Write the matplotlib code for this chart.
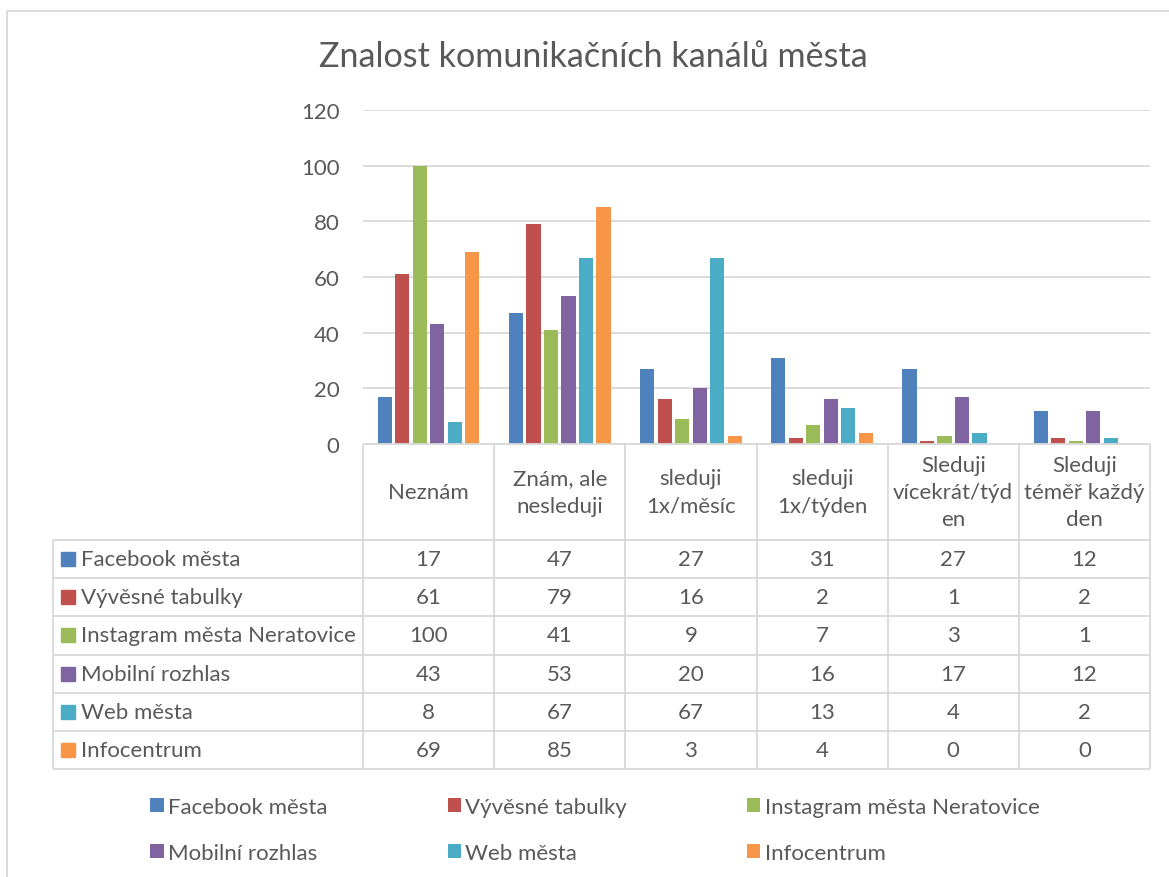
import matplotlib
matplotlib.use('Agg')
import matplotlib.pyplot as plt
from matplotlib.patches import Rectangle
import numpy as np

plt.rcParams['font.family'] = ['Lato', 'DejaVu Sans']

# data
title = "Znalost komunikačních kanálů města"
categories = ["Neznám", "Znám, ale\nnesleduji", "sleduji\n1x/měsíc", "sleduji\n1x/týden",
              "Sleduji\nvícekrát/týd\nen", "Sleduji\ntéměř každý\nden"]
series_names = ["Facebook města", "Vývěsné tabulky", "Instagram města Neratovice",
                "Mobilní rozhlas", "Web města", "Infocentrum"]
facebook = [17, 47, 27, 31, 27, 12]
vyvesky = [61, 79, 16, 2, 1, 2]
instagram = [100, 41, 9, 7, 3, 1]
rozhlas = [43, 53, 20, 16, 17, 12]
web = [8, 67, 67, 13, 4, 2]
infocentrum = [69, 85, 3, 4, 0, 0]
series_values = [facebook, vyvesky, instagram, rozhlas, web, infocentrum]
colors = ['#4F81BD', '#C0504D', '#9BBB59', '#8064A2', '#4BACC6', '#F79646']

txt = '#595959'
gc = '#D9D9D9'
fs = 16

W, H = 1169, 878
fig = plt.figure(figsize=(W / 100, H / 100), dpi=100)


def box(l, t, r, b):
    # pixel box (from top-left) -> figure fraction
    return [l / W, 1 - b / H, (r - l) / W, (b - t) / H]


# chart border
fig.patches.append(Rectangle((7 / W, -0.1), 1.2, 1 - 12 / H + 0.1, transform=fig.transFigure,
                             fill=False, edgecolor=gc, lw=1.3))

fig.text(593 / W, 1 - 57 / H, title, ha='center', va='center', fontsize=24.6, color=txt)

# bars
ax = fig.add_axes(box(363, 111, 1150, 445))
x = np.arange(len(categories))
step = 0.1334
bw = 0.107
bars = []
for j, (name, vals) in enumerate(zip(series_names, series_values)):
    b = ax.bar(x + (j - 2.5) * step, vals, bw, color=colors[j], label=name, zorder=3)
    bars.append(b)
ax.set_xlim(-0.5, 5.5)
ax.set_ylim(0, 120)
ax.set_yticks(range(0, 121, 20))
ax.yaxis.grid(True, color=gc, lw=1.3, zorder=0)
for s in ax.spines.values():
    s.set_visible(False)
ax.set_xticks([])
ax.tick_params(axis='y', length=0, pad=17, labelsize=fs, labelcolor=txt)

# data table
tab = fig.add_axes(box(53, 445, 1150, 770))
ncat = len(categories)
nser = len(series_names)
cw = 787 / ncat
label_w = (363 - 53) / cw
hdr = (541 - 445) / ((770 - 541) / nser)
left = -0.5 - label_w
tab.set_xlim(left, ncat - 0.5)
tab.set_ylim(hdr + nser, 0)
tab.axis('off')
kw = dict(color=gc, lw=1.3, clip_on=False, solid_capstyle='butt')
tab.plot([-0.5, ncat - 0.5], [0, 0], **kw)
for r in range(nser + 1):
    tab.plot([left, ncat - 0.5], [hdr + r] * 2, **kw)
for c in range(ncat + 1):
    tab.plot([c - 0.5] * 2, [0, hdr + nser], **kw)
tab.plot([left] * 2, [hdr, hdr + nser], **kw)

for i, cat in enumerate(categories):
    tab.text(i, hdr / 2, cat, ha='center', va='center', fontsize=fs, color=txt, linespacing=1.45)

for r, (name, vals) in enumerate(zip(series_names, series_values)):
    yc = hdr + r + 0.5
    tab.plot(left + 15 / cw, yc, marker='s', ms=9.5, color=colors[r], clip_on=False)
    tab.text(left + 28 / cw, yc, name, ha='left', va='center', fontsize=fs, color=txt)
    for i, v in enumerate(vals):
        tab.text(i, yc, str(v), ha='center', va='center', fontsize=fs, color=txt)

# legend (row-major like Excel)
order = [0, 3, 1, 4, 2, 5]
fig.legend([bars[k] for k in order], [series_names[k] for k in order], ncol=3,
           loc='center', bbox_to_anchor=(595 / W, 1 - 831 / H), frameon=False,
           fontsize=fs, labelcolor=txt, handlelength=0.6, handleheight=0.6,
           handletextpad=0.2, columnspacing=5.4, labelspacing=1.15)

fig.savefig('out.png', dpi=100)
